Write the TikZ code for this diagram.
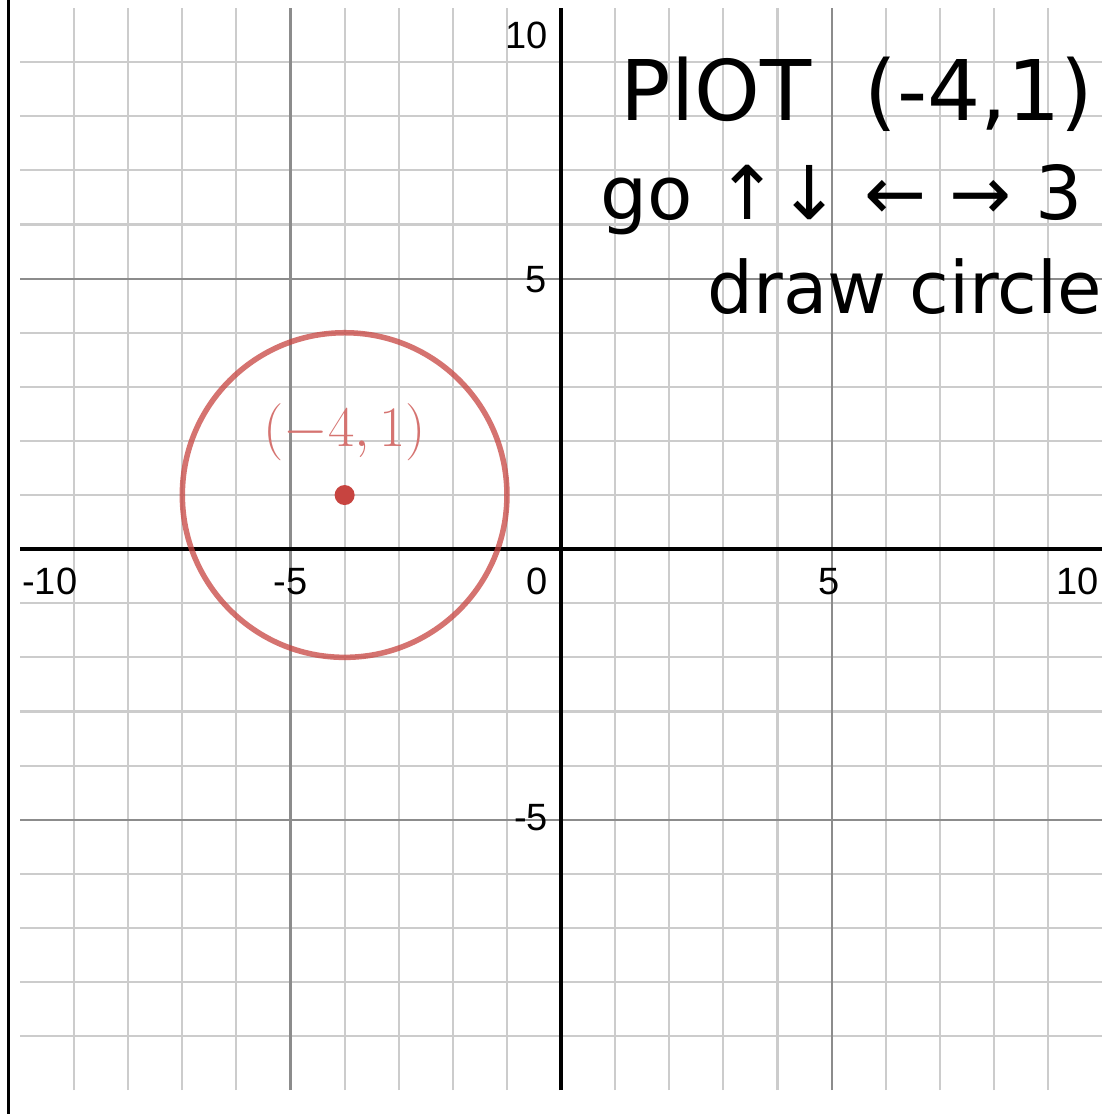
\documentclass[tikz,border=0pt]{standalone}
\usepackage{fontspec}
\newfontfamily\axisfont{Liberation Sans}
\newfontfamily\handfont{DejaVu Sans}
\definecolor{dred}{RGB}{199,68,64}

\begin{document}
\begin{tikzpicture}[minor/.style={draw=black!20, line width=1.1pt}, major/.style={draw=black!45, line width=1.1pt}, axis/.style={draw=black, line width=1.8pt}, tick/.style={font=\axisfont\fontsize{20}{22}\selectfont, inner sep=1pt}, hand/.style={font=\handfont\fontsize{42}{48}\selectfont, anchor=west, inner sep=0pt}]
	\useasboundingbox (-10.37,-10.44) rectangle (10.17,10.15);
	% grid
	\foreach \k in {-9,-8,-7,-6,-4,-3,-2,-1,1,2,3,4,6,7,8,9} {
		\draw[minor] (\k,-10) -- (\k,10);
		\draw[minor] (-10,\k) -- (10,\k);
	}
	\foreach \k in {-5,5} {
		\draw[major] (\k,-10) -- (\k,10);
		\draw[major] (-10,\k) -- (10,\k);
	}
	\draw[axis] (-10,0) -- (10,0);
	\draw[axis] (0,-10) -- (0,10);
	\draw[black, line width=1.6pt] (-10.22,-10.44) -- (-10.22,10.15);
	% tick labels
	\node[tick, anchor=east] (y10) at (-0.2,9.5) {10};
	\node[tick, anchor=east] (y5) at (-0.22,4.99) {5};
	\node[tick, anchor=east] (ym5) at (-0.2,-4.97) {-5};
	\node[tick] (xm10) at (-9.45,-0.6) {-10};
	\node[tick] (xm5) at (-5.0,-0.6) {-5};
	\node[tick] (x0) at (-0.44,-0.6) {0};
	\node[tick] (x5) at (4.95,-0.6) {5};
	\node[tick] (x10) at (9.54,-0.6) {10};
	% circle about (-4,1)
	\coordinate (c) at (-4,1);
	\draw[dred, opacity=0.75, line width=2.9pt] (c) circle (3);
	\node[circle, fill=dred, inner sep=0pt, minimum size=0.37cm] (pt) at (c) {};
	\node[text=dred!75, font=\fontsize{24}{28}\selectfont] (lbl) at (-4,2.16) {\scalebox{1.21}{$(-4,1)$}};
	% notes
	\node[hand, font=\handfont\fontsize{44}{50}\selectfont] (plot) at (1.1,8.4) {PlOT\ \ (-4,1)};
	\node[hand, font=\handfont\fontsize{39}{44}\selectfont] (go) at (0.72,6.45) {go ↑↓ ← → 3};
	\node[hand, font=\handfont\fontsize{38}{44}\selectfont] (drw) at (2.7,4.85) {draw circle};
\end{tikzpicture}
\end{document}
